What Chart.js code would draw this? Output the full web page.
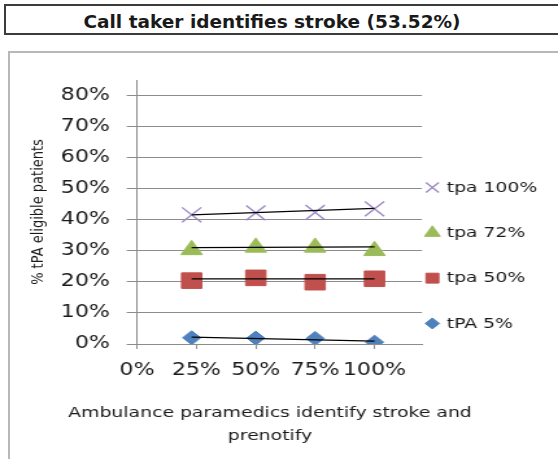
<!DOCTYPE html>
<html>
<head>
<meta charset="utf-8">
<script src="https://cdn.jsdelivr.net/npm/chart.js@4.4.0/dist/chart.umd.min.js"></script>
<style>
html, body { margin:0; padding:0; background:#fff; width:558px; height:459px; overflow:hidden; }
#titlebox { position:absolute; left:4px; top:4px; width:620px; height:27px; border:2px solid #3c3c3c; }
#title { position:absolute; left:0; top:12px; width:544px; text-align:center; font-family:"DejaVu Sans"; font-weight:bold; font-size:18.5px; line-height:20px; color:#1a1a1a; white-space:nowrap; }
#chartbox { position:absolute; left:8px; top:51px; width:620px; height:520px; border:2px solid #b8b8b8; }
#stretch { position:absolute; left:0; top:52px; width:430px; height:407px; transform:scaleX(1.29767); transform-origin:0 0; }
</style>
</head>
<body>
<div id="titlebox"></div>
<div id="title">Call taker identifies stroke (53.52%)</div>
<div id="chartbox"></div>
<div id="stretch"><canvas id="c" width="430" height="407"></canvas></div>
<script>
// ---- data ----
const xValues = [23, 50, 75, 100];             // % ambulance paramedics identify stroke and prenotify
const seriesNames = ['tPA 5%', 'tpa 50%', 'tpa 72%', 'tpa 100%'];
const tpa5   = [2.0, 1.9, 1.8, 0.6];
const tpa50  = [20.4, 21.3, 19.9, 21.0];
const tpa72  = [30.3, 31.1, 31.1, 30.0];
const tpa100 = [41.6, 42.2, 42.4, 43.5];
// trendline end points
const trendX   = [23, 100];
const trend5   = [2.2, 0.9];
const trend50  = [21.0, 21.0];
const trend72  = [31.0, 31.3];
const trend100 = [41.6, 43.7];
// tick labels
const xTickValues = [0, 25, 50, 75, 100];
const yTickValues = [0, 10, 20, 30, 40, 50, 60, 70, 80];
const xTitle = ['Ambulance paramedics identify stroke and   ', 'prenotify   '];
const yTitle = '% tPA eligible patients';

const toPoints = (xs, ys) => xs.map((x, i) => ({ x: x, y: ys[i] }));

const trendStyle = { showLine: true, pointRadius: 0, pointHoverRadius: 0, borderColor: '#000000', borderWidth: 1.2, fill: false };

const markerSets = [
  { label: seriesNames[0], data: toPoints(xValues, tpa5),   pointStyle: 'rectRot',  pointRadius: 7,    backgroundColor: '#4f81bd', borderColor: '#4f81bd', pointBorderWidth: 1, legendRadius: 5.5 },
  { label: seriesNames[1], data: toPoints(xValues, tpa50),  pointStyle: 'rect',     pointRadius: 11,   backgroundColor: '#c0504d', borderColor: '#c0504d', pointBorderWidth: 1, legendRadius: 7 },
  { label: seriesNames[2], data: toPoints(xValues, tpa72),  pointStyle: 'triangle', pointRadius: 9.5,  backgroundColor: '#9bbb59', borderColor: '#9bbb59', pointBorderWidth: 1, legendRadius: 7 },
  { label: seriesNames[3], data: toPoints(xValues, tpa100), pointStyle: 'crossRot', pointRadius: 10.5, backgroundColor: '#9d8bc7', borderColor: '#9d8bc7', pointBorderWidth: 1.4, legendRadius: 7 }
];

const datasets = [
  Object.assign({ label: 'trend 5',   data: toPoints(trendX, trend5) },   trendStyle),
  Object.assign({ label: 'trend 50',  data: toPoints(trendX, trend50) },  trendStyle),
  Object.assign({ label: 'trend 72',  data: toPoints(trendX, trend72) },  trendStyle),
  Object.assign({ label: 'trend 100', data: toPoints(trendX, trend100) }, trendStyle)
].concat(markerSets.map(m => Object.assign({ showLine: false }, m)));

const sideLegend = {
  id: 'sideLegend',
  afterDraw(chart) {
    const ctx = chart.ctx;
    const area = chart.chartArea;
    const order = [3, 2, 1, 0];
    const spacing = 45.3;
    const cy = chart.height / 2;
    ctx.save();
    ctx.font = '14.5px "DejaVu Sans"';
    ctx.textBaseline = 'middle';
    ctx.textAlign = 'left';
    order.forEach((k, i) => {
      const ds = markerSets[k];
      const y = cy + (i - 1.5) * spacing;
      const mx = area.right + 8;
      ctx.fillStyle = ds.backgroundColor;
      ctx.strokeStyle = ds.borderColor;
      ctx.lineWidth = ds.pointBorderWidth;
      Chart.helpers.drawPoint(ctx, { pointStyle: ds.pointStyle, radius: ds.legendRadius, rotation: 0, borderWidth: ds.pointBorderWidth }, mx, y);
      ctx.fillStyle = '#1a1a1a';
      ctx.fillText(ds.label, area.right + 19, y + 0.5);
    });
    ctx.restore();
  }
};

new Chart(document.getElementById('c'), {
  type: 'scatter',
  data: { datasets: datasets },
  plugins: [sideLegend],
  options: {
    responsive: false,
    animation: false,
    events: [],
    layout: { padding: { left: 0, right: 0, top: 28, bottom: 0 } },
    plugins: {
      legend: { display: false },
      tooltip: { enabled: false },
      title: {
        display: true, position: 'bottom', align: 'center', text: xTitle,
        font: { family: 'DejaVu Sans', size: 14.5, weight: 'normal', lineHeight: 1.586 },
        color: '#1a1a1a', padding: { top: 10, bottom: 11.5 }
      }
    },
    scales: {
      x: {
        type: 'linear', min: 0, max: 120,
        afterBuildTicks: s => { s.ticks = xTickValues.map(v => ({ value: v })); },
        afterFit: s => { s.height = 47.5; },
        ticks: { callback: v => v + '%', font: { family: 'DejaVu Sans', size: 17 }, color: '#1a1a1a', padding: 11, maxRotation: 0, autoSkip: false },
        grid: { drawOnChartArea: false, drawTicks: true, tickLength: 5, color: '#8c8c8c' },
        border: { display: true, color: '#8c8c8c', width: 1 }
      },
      y: {
        min: 0, max: 85,
        afterBuildTicks: s => { s.ticks = yTickValues.map(v => ({ value: v })); },
        afterFit: s => { s.width = 105.6; },
        ticks: { callback: v => v + '%', font: { family: 'DejaVu Sans', size: 17 }, color: '#1a1a1a', padding: 13 },
        grid: { color: '#8c8c8c', lineWidth: 1, drawTicks: true, tickLength: 8 },
        border: { display: true, color: '#8c8c8c', width: 1 },
        title: { display: true, text: yTitle, font: { family: 'DejaVu Sans', size: 13 }, color: '#1a1a1a', padding: { top: 22.2, bottom: 0 } }
      },
      legendSpace: {
        type: 'linear', position: 'right', display: true,
        afterFit: s => { s.width = 104.8; },
        ticks: { display: false },
        grid: { display: false, drawTicks: false },
        border: { display: false }
      }
    }
  }
});
</script>
</body>
</html>
